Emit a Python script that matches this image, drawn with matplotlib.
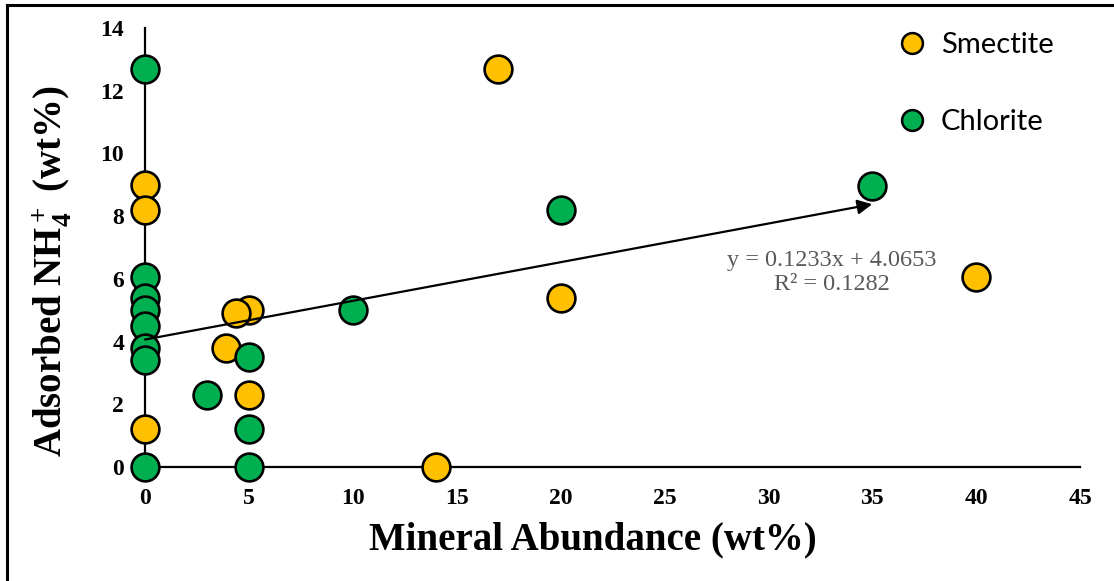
import matplotlib

matplotlib.use("Agg")
import matplotlib.pyplot as plt
from matplotlib.lines import Line2D

plt.rcParams["font.family"] = ["Liberation Serif", "DejaVu Serif"]
plt.rcParams["mathtext.fontset"] = "custom"
plt.rcParams["mathtext.rm"] = "Liberation Serif:bold"
plt.rcParams["mathtext.it"] = "Liberation Serif:bold"
plt.rcParams["mathtext.bf"] = "Liberation Serif:bold"

# Smectite samples: mineral abundance (wt%) vs adsorbed NH4+ (wt%)
smectite_x = [0, 0, 0, 5, 4.4, 3.9, 5, 14, 17, 20, 40]
smectite_y = [9.0, 8.2, 1.2, 5.0, 4.9, 3.8, 2.3, 0.0, 12.7, 5.4, 6.05]

# Chlorite samples
chlorite_x = [0, 0, 0, 0, 0, 0, 0, 0, 3, 5, 5, 5, 10, 20, 35]
chlorite_y = [12.7, 6.05, 5.4, 5.0, 4.5, 3.8, 3.4, 0.0, 2.3, 3.5, 1.2, 0.0, 5.0, 8.2, 8.95]

# Linear trend as reported on the chart
trend_slope = 0.1233
trend_intercept = 4.0653
trend_r2 = 0.1282
trend_x_end = 35

x_ticks = [0, 5, 10, 15, 20, 25, 30, 35, 40, 45]
y_ticks = [0, 2, 4, 6, 8, 10, 12, 14]

SMECTITE_COLOR = "#FFC000"
CHLORITE_COLOR = "#00B050"

fig = plt.figure(figsize=(11.14, 5.81), dpi=100)
ax = fig.add_axes([0.1302, 0.1962, 0.8393, 0.7556])

marker_style = dict(s=400, edgecolors="black", linewidths=1.9, clip_on=False)
ax.scatter(smectite_x, smectite_y, color=SMECTITE_COLOR, zorder=3, **marker_style)
ax.scatter(chlorite_x, chlorite_y, color=CHLORITE_COLOR, zorder=4, **marker_style)

ax.annotate(
    "",
    xy=(trend_x_end, trend_slope * trend_x_end + trend_intercept),
    xytext=(0, trend_intercept),
    arrowprops=dict(arrowstyle="-|>", color="black", lw=1.6, mutation_scale=22,
                    shrinkA=0, shrinkB=0),
    zorder=5,
)
ax.text(33.05, 6.2, f"y = {trend_slope}x + {trend_intercept}\nR² = {trend_r2}",
        ha="center", va="center", fontsize=17.5, color="#595959",
        linespacing=1.2, zorder=6)

ax.set_xlim(0, 45)
ax.set_ylim(0, 14)
ax.set_xticks(x_ticks)
ax.set_yticks(y_ticks)
ax.tick_params(length=0, pad=15, labelsize=17)
for label in ax.get_xticklabels() + ax.get_yticklabels():
    label.set_fontweight("bold")

for side in ("top", "right"):
    ax.spines[side].set_visible(False)
for side in ("left", "bottom"):
    ax.spines[side].set_linewidth(1.6)
    ax.spines[side].set_zorder(1)

ax.set_xlabel("Mineral Abundance (wt%)", fontsize=28, fontweight="bold")
ax.set_ylabel(r"Adsorbed NH$_4^+$ (wt%)", fontsize=28, fontweight="bold")
ax.xaxis.set_label_coords(0.479, -0.125)
ax.yaxis.set_label_coords(-0.076, 0.447)

handles = [
    Line2D([], [], marker="o", ls="none", markersize=15, markerfacecolor=color,
           markeredgecolor="black", markeredgewidth=1.8, label=name)
    for name, color in (("Smectite", SMECTITE_COLOR), ("Chlorite", CHLORITE_COLOR))
]
fig.legend(handles=handles, loc="upper left", bbox_to_anchor=(0.779, 0.99),
           frameon=False, prop={"family": "Lato", "size": 21},
           labelspacing=1.75, handletextpad=0.4, handlelength=1.2)

# Partial frame along the top and left edges of the figure
fig.add_artist(Line2D([0.0063, 0.0063], [0, 0.991], color="black", lw=2.2,
                      transform=fig.transFigure))
fig.add_artist(Line2D([0.0063, 1.0], [0.991, 0.991], color="black", lw=2.2,
                      transform=fig.transFigure))

fig.savefig("out.png", dpi=100)
